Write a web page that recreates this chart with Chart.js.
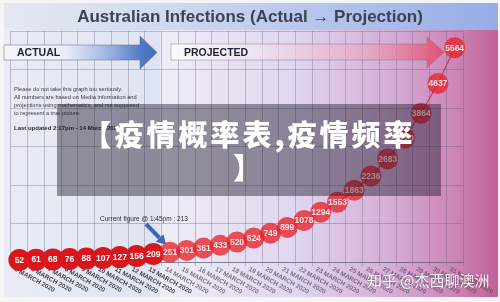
<!DOCTYPE html>
<html>
<head>
<meta charset="utf-8">
<script src="https://cdn.jsdelivr.net/npm/chart.js@4.4.1/dist/chart.umd.min.js"></script>
<style>
  html, body { margin: 0; padding: 0; background: #f5f5f7; }
  #wrap { position: relative; width: 500px; height: 302px; overflow: hidden; }
  #chart { position: absolute; left: 0; top: 0; }
  #banner {
    position: absolute; left: 57px; top: 104px; width: 384px; height: 92px;
    box-sizing: border-box; padding-top: 13px;
    background: rgba(18, 16, 34, 0.42);
    color: #fff; text-align: center;
    font: 900 29px "Noto Sans CJK SC", sans-serif; line-height: 33px; letter-spacing: 3px;
  }
  #mark {
    position: absolute; left: 367px; top: 272px; white-space: nowrap;
    font: 15px "Noto Sans CJK SC", sans-serif; line-height: 15px;
    color: rgba(255, 255, 255, 0.93);
    text-shadow: 0 0 2px rgba(70, 40, 70, 0.55);
  }
</style>
</head>
<body>
<div id="wrap">
  <canvas id="chart" width="500" height="302"></canvas>
  <div id="banner">【疫情概率表,疫情频率<br>】</div>
  <div id="mark">知乎 @杰西聊澳洲</div>
</div>
<script>
// Daily dates on the x axis
const dates = [
  '5 MARCH 2020', '6 MARCH 2020', '7 MARCH 2020', '8 MARCH 2020', '9 MARCH 2020',
  '10 MARCH 2020', '11 MARCH 2020', '12 MARCH 2020', '13 MARCH 2020', '14 MARCH 2020',
  '15 MARCH 2020', '16 MARCH 2020', '17 MARCH 2020', '18 MARCH 2020', '19 MARCH 2020',
  '20 MARCH 2020', '21 MARCH 2020', '22 MARCH 2020', '23 MARCH 2020', '24 MARCH 2020',
  '25 MARCH 2020', '26 MARCH 2020', '27 MARCH 2020', '28 MARCH 2020', '29 MARCH 2020',
  '30 MARCH 2020', '31 MARCH 2020'
];
// Reported cases (5–13 March)
const actualCases = [52, 61, 68, 76, 88, 107, 127, 156, 209];
// Projected cases (14–31 March)
const projectedCases = [251, 301, 361, 433, 520, 624, 749, 899, 1078, 1294, 1553, 1863, 2236, 2683, 3220, 3864, 4637, 5564];
// Horizontal grid positions
const yTicks = [0, 1000, 2000, 3000, 4000, 5000, 6000];

const cases = actualCases.concat(projectedCases);
const isActual = cases.map((v, i) => i < actualCases.length);
const bubbleColors = isActual.map(a => a ? '#d8161c' : 'rgba(232, 34, 44, 0.78)');
const bubbleRadius = isActual.map(a => a ? 11 : 10.5);

// Slide background, title bar and title
const backdrop = {
  id: 'backdrop',
  beforeDraw(chart) {
    const c = chart.ctx;
    c.save();
    c.fillStyle = '#f5f5f7';
    c.fillRect(0, 0, 500, 302);

    let g = c.createLinearGradient(4, 0, 160, 0);
    g.addColorStop(0, '#e9ecf5');
    g.addColorStop(1, '#dfe4f2');
    c.fillStyle = g;
    c.fillRect(4, 3, 156, 294);

    g = c.createLinearGradient(160, 0, 498, 0);
    g.addColorStop(0, '#efedf7');
    g.addColorStop(0.4, '#e0d6ee');
    g.addColorStop(0.68, '#d6aed6');
    g.addColorStop(0.87, '#cd86b7');
    g.addColorStop(1, '#c06098');
    c.fillStyle = g;
    c.fillRect(160, 3, 338, 294);

    g = c.createLinearGradient(4, 0, 498, 0);
    g.addColorStop(0, '#e5e8f0');
    g.addColorStop(0.3, '#d2dbf0');
    g.addColorStop(1, '#96ade6');
    c.fillStyle = g;
    c.fillRect(4, 3, 494, 27);

    c.fillStyle = '#3a4254';
    c.font = 'bold 17px "Liberation Sans", Arial, sans-serif';
    c.textAlign = 'center';
    c.textBaseline = 'alphabetic';
    c.fillText('Australian Infections (Actual \u2192 Projection)', 250, 21.5);
    c.restore();
  }
};

function arrowPath(c, x0, x1, headX, top, bottom, headTop, headBottom) {
  const mid = (top + bottom) / 2;
  c.beginPath();
  c.moveTo(x0, top);
  c.lineTo(headX, top);
  c.lineTo(headX, headTop);
  c.lineTo(x1, mid);
  c.lineTo(headX, headBottom);
  c.lineTo(headX, bottom);
  c.lineTo(x0, bottom);
  c.closePath();
}

// Phase arrows, notes and date labels (under the bubbles)
const annotations = {
  id: 'annotations',
  beforeDatasetsDraw(chart) {
    const c = chart.ctx;
    c.save();

    // ACTUAL arrow
    arrowPath(c, 4, 157, 140, 45, 60, 36, 69);
    let g = c.createLinearGradient(4, 0, 157, 0);
    g.addColorStop(0, '#f4f6fb');
    g.addColorStop(0.4, '#eaeef8');
    g.addColorStop(0.7, '#9aaedf');
    g.addColorStop(0.9, '#5079c6');
    g.addColorStop(1, '#3f6bbf');
    c.fillStyle = g;
    c.fill();
    c.strokeStyle = 'rgba(100, 106, 128, 0.65)';
    c.lineWidth = 0.8;
    c.stroke();

    // PROJECTED arrow
    arrowPath(c, 171, 444, 427, 44, 60, 37, 68);
    g = c.createLinearGradient(171, 0, 444, 0);
    g.addColorStop(0, 'rgba(252, 252, 254, 0.92)');
    g.addColorStop(0.3, 'rgba(242, 230, 242, 0.7)');
    g.addColorStop(0.72, 'rgba(236, 160, 188, 0.6)');
    g.addColorStop(1, 'rgba(224, 72, 104, 0.85)');
    c.fillStyle = g;
    c.fill();
    c.strokeStyle = 'rgba(110, 110, 132, 0.55)';
    c.stroke();

    c.fillStyle = '#1e2230';
    c.font = 'bold 10.5px "Liberation Sans", Arial, sans-serif';
    c.textAlign = 'left';
    c.textBaseline = 'alphabetic';
    c.fillText('ACTUAL', 17, 55.5);
    c.fillText('PROJECTED', 184, 55.5);

    // Notes
    c.fillStyle = '#3a3a46';
    c.font = '5.7px "Liberation Sans", Arial, sans-serif';
    c.fillText('Please do not take this graph too seriously.', 14, 91);
    c.fillText('All numbers are based on Media information and', 14, 99);
    c.fillText('projections using mathematics, and not supposed', 14, 107);
    c.fillText('to represent a true picture.', 14, 115);
    c.font = 'bold 6px "Liberation Sans", Arial, sans-serif';
    c.fillStyle = '#2a2a36';
    c.fillText('Last updated 2:17pm - 14 March 2020', 14, 130);

    // Rotated date labels
    const xs = chart.scales.x;
    c.font = 'bold 6.4px "Liberation Sans", Arial, sans-serif';
    c.textBaseline = 'top';
    dates.forEach((d, i) => {
      const x = xs.getPixelForValue(i);
      c.save();
      c.translate(x - 3, xs.top + 4);
      c.rotate(29 * Math.PI / 180);
      c.fillStyle = isActual[i] ? '#3f3f4a' : 'rgba(78, 74, 92, 0.72)';
      c.fillText(d, 0, 0);
      c.restore();
    });
    c.restore();
  },
  afterDatasetsDraw(chart) {
    const c = chart.ctx;
    c.save();
    // Value inside each bubble
    const meta = chart.getDatasetMeta(0);
    c.font = 'bold 8.5px "Liberation Sans", Arial, sans-serif';
    c.textAlign = 'center';
    c.textBaseline = 'middle';
    meta.data.forEach((pt, i) => {
      c.fillStyle = isActual[i] ? '#ffffff' : 'rgba(255, 236, 238, 0.95)';
      c.fillText(String(cases[i]), pt.x, pt.y + 0.5);
    });

    // Current figure note and pointer
    c.fillStyle = '#2c2c38';
    c.font = '6.5px "Liberation Sans", Arial, sans-serif';
    c.textAlign = 'left';
    c.textBaseline = 'alphabetic';
    c.fillText('Current figure @ 1:45pm : 213', 100, 220.5);

    c.strokeStyle = '#3c65b5';
    c.fillStyle = '#3c65b5';
    c.lineWidth = 4;
    c.beginPath();
    c.moveTo(146, 224);
    c.lineTo(159.5, 237.8);
    c.stroke();
    c.beginPath();
    c.moveTo(166, 244.5);
    c.lineTo(155.8, 241.8);
    c.lineTo(163.5, 234.3);
    c.closePath();
    c.fill();
    c.restore();
  }
};

new Chart(document.getElementById('chart'), {
  type: 'line',
  data: {
    labels: dates,
    datasets: [{
      data: cases,
      borderColor: 'rgba(205, 40, 60, 0.85)',
      borderWidth: 1.2,
      tension: 0,
      fill: false,
      clip: false,
      pointRadius: bubbleRadius,
      pointHoverRadius: bubbleRadius,
      pointBackgroundColor: bubbleColors,
      pointBorderWidth: 0
    }]
  },
  options: {
    responsive: false,
    animation: false,
    events: [],
    layout: { padding: { left: 8, right: 37, top: 31, bottom: 36 } },
    plugins: { legend: { display: false }, tooltip: { enabled: false } },
    scales: {
      x: {
        offset: true,
        grid: { offset: true, color: 'rgba(90, 92, 118, 0.33)', lineWidth: 1, drawTicks: true, tickLength: 4 },
        border: { display: true, color: 'rgba(90, 90, 112, 0.6)' },
        ticks: { display: false }
      },
      y: {
        min: 0,
        max: 6000,
        afterBuildTicks: s => { s.ticks = yTicks.map(v => ({ value: v })); },
        grid: { color: 'rgba(90, 92, 118, 0.33)', lineWidth: 1, drawTicks: false },
        border: { display: false },
        ticks: { display: false }
      }
    }
  },
  plugins: [backdrop, annotations]
});
</script>
</body>
</html>
